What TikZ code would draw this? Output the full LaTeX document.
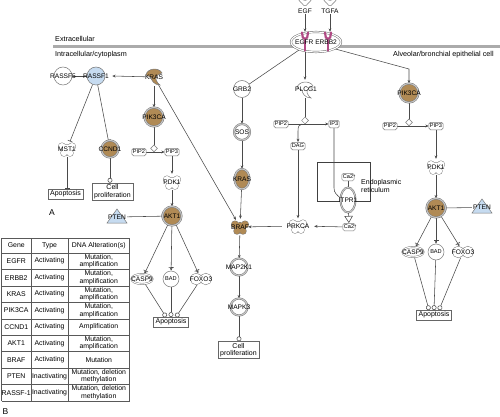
\documentclass[tikz,border=0pt]{standalone}
\usepackage{fontspec}
\setmainfont{Liberation Sans}
\usetikzlibrary{arrows.meta,shapes.geometric,calc}
\pgfdeclarelayer{bg}
\pgfsetlayers{bg,main}
\definecolor{brn}{HTML}{B08A55}
\definecolor{lblue}{HTML}{C6DBF0}
\definecolor{mag}{HTML}{B04A84}
\definecolor{ln}{HTML}{4A4A4A}
\definecolor{ol}{HTML}{787878}
\newcommand\zw[1]{\makebox[0pt]{#1}}
\newcommand\gfont{\fontsize{6.6}{7.2}\selectfont}
\newcommand\sfont{\fontsize{5.6}{6.2}\selectfont}
\newcommand\tfont{\fontsize{6.9}{7.4}\selectfont}
\newcommand\mfont{\fontsize{7.2}{8}\selectfont}
\newcommand\catwo{Ca2\rlap{\raisebox{1pt}{\fontsize{4}{4}\selectfont +}}}
\tikzset{
  lab/.style={font=\gfont, inner sep=0},
  txt/.style={font=\tfont, inner sep=0},
  hit/.style={circle, minimum size=#1, inner sep=0, font=\gfont},
  hitr/.style 2 args={rectangle, minimum width=#1, minimum height=#2, inner sep=0, font=\gfont},
  nplain/.style={circle, draw=ol, fill=white, line width=0.5, minimum size=#1, inner sep=0, font=\gfont},
  nring/.style={circle, draw=black!55, line width=0.45, double=black!22, double distance=1.1, fill=white, minimum size=#1, inner sep=0, font=\gfont},
  nbr/.style={nring=#1, fill=brn},
  casp/.style={ellipse, draw=ol, double=white, double distance=1, line width=0.45, fill=white, minimum width=21, minimum height=10, inner sep=0, font=\gfont},
  sm/.style={draw=ol, rounded corners=1.5, line width=0.5, fill=white, inner sep=1, minimum height=7.5, font=\sfont},
  dia/.style={diamond, draw=ol, fill=white, line width=0.5, minimum size=7, inner sep=0},
  outbox/.style={draw=black!60, line width=0.5, fill=white, inner xsep=2, inner ysep=1.5, align=center, font=\fontsize{7}{7.6}\selectfont},
  cn/.style={draw=ln, line width=0.55},
  arr/.style={cn, -{Stealth[length=3.3pt,width=2.8pt]}},
  tee/.style={cn, -{Bar[width=5pt]}},
  circ/.style={cn, -{Circle[open, length=4.8pt, width=4.8pt, fill=white]}},
  barr/.style={cn, -{Bar[width=5pt] Stealth[length=3pt,width=2.6pt]}},
  tbl/.style={draw=black!65, line width=0.5},
  pics/kin/.style={code={
    \foreach \a/\b/\r in {-5/-2.5/3.5, 5/-2.5/3.5, -3/4/3.2, 3/4/3.2, 0/0/4.6}
      {\draw[ol, line width=0.9] (\a,\b) circle (\r);}
    \foreach \a/\b/\r in {-5/-2.5/3.5, 5/-2.5/3.5, -3/4/3.2, 3/4/3.2, 0/0/4.6}
      {\fill[#1] (\a,\b) circle (\r);}
  }},
  pics/hook/.style={code={
    \draw[ol, line width=0.5, fill=#1] (-8,-1) .. controls (-7,-8) and (5,-9) .. (8,-3) .. controls (5,-2) and (1,0) .. (2,4) .. controls (3,7) and (5,8) .. (6,9) .. controls (0,9) and (-3,4) .. (-3,1) .. controls (-5,0) and (-7,0) .. (-8,-1) -- cycle;
  }},
  pics/gf/.style={code={
    \draw[ol, line width=0.5, fill=white] (-7,-6) .. controls (-8,-2) and (-3,0) .. (-1.2,3) -- (1.2,3) .. controls (3,0) and (8,-2) .. (7,-6) .. controls (5.5,-7.5) and (3.5,-6) .. (3,-4) .. controls (2,-1.5) and (-2,-1.5) .. (-3,-4) .. controls (-3.5,-6) and (-5.5,-7.5) .. (-7,-6) -- cycle;
  }},
  pics/ry/.style={code={
    \draw[mag, line width=2.2, line cap=round, line join=round] (-3,-9.5) -- (-2.2,-4.5) -- (0,-3) -- (2.2,-4.5) -- (3,-9.5);
    \draw[mag, line width=2.6, line cap=round] (0,-3) -- (0,8.5);
  }},
  pics/trg/.style={code={
    \draw[ol, line width=1] (-4.8,0) circle (5.5) (4.8,0) circle (5.5);
    \fill[white] (-4.8,0) circle (5.5) (4.8,0) circle (5.5);
  }},
}
\newcommand\trow[4]{%
  \node[txt] (g#1) at (16.25,{261.2+16.44*#1}) {#2};
  \node[txt] (t#1) at (49.5,{261.2+16.44*#1}) {#3};
  \node[txt, align=center] (d#1) at (98.75,{261.2+16.44*#1}) {#4};}
\begin{document}
\begin{tikzpicture}[x=1pt,y=-1pt]
\useasboundingbox (0,0) rectangle (500,417);
\begin{pgfonlayer}{bg}
\fill[white] (0,0) rectangle (500,417);
\draw[black!33, line width=3.8] (53,46.5) -- (500,46.5);
\draw[black!75, line width=0.5] (317,162) rectangle (370,201);
\end{pgfonlayer}
\node[font=\mfont, inner sep=0, anchor=west] (extra) at (55,38.5) {Extracellular};
\node[font=\mfont, inner sep=0, anchor=west] (intra) at (55,55) {Intracellular/cytoplasm};
\node[font=\mfont, inner sep=0, anchor=west] (alv) at (393,55) {Alveolar/bronchial epithelial cell};
% receptor and ligands
\node[ellipse, draw=black!60, double=white, double distance=1.2, line width=0.45, fill=white, minimum width=50, minimum height=20, inner sep=0] (rec) at (316,42) {};
\pic at (305,42) {ry};
\pic at (328,42) {ry};
\node[lab] (rectxt) at (316,42.5) {EGFR ERBB2};
\pic at (305,2.5) {gf};
\node[lab] (egf) at (305,11.5) {EGF};
\pic at (330,2.5) {gf};
\node[lab] (tgfa) at (330,11.5) {TGFA};
% middle column
\node[nplain=17] (grb2) at (242,89) {\zw{GRB2}};
\node[nring=16] (sos) at (242,132) {\zw{SOS}};
\node[nbr=15, ellipse, minimum height=20] (krasm) at (242,179) {\zw{KRAS}};
\pic at (240,227) {kin=brn};
\node[hit=16] (braf) at (240,227) {\zw{BRAF}};
\pic at (298,226) {kin=white};
\node[hitr={32}{15}] (prkca) at (298,226) {PRKCA};
\node[nring=17] (map2k1) at (239,267) {\zw{MAP2K1}};
\node[nring=17] (mapk3) at (239,307) {\zw{MAPK3}};
\node[outbox] (cpm) at (238.5,350) {Cell\\proliferation};
\pic at (305,89) {hook=white};
\node[hitr={16}{18}] (plcg) at (306,89) {PLCG1};
\node[dia] (diam) at (305,120.5) {};
\node[sm] (pip2m) at (281,124) {PIP2};
\node[sm] (ip3m) at (334,124) {IP3};
\node[sm] (dag) at (298,146) {DAG};
\node[sm] (ca2t) at (348,177) {\catwo};
\node[ellipse, draw=black!55, line width=0.45, double=black!22, double distance=1, fill=white, minimum width=15, minimum height=25, inner sep=0, font=\gfont] (itpr) at (348,200) {\zw{ITPR1}};
\node[sm] (ca2l) at (349,227) {\catwo};
\node[inner sep=0, anchor=west, align=left, font=\fontsize{7}{8}\selectfont] (ert) at (361,186) {Endoplasmic\\reticulum};
% left column
\node[nplain=18] (rassf5) at (63,76) {\zw{RASSF5}};
\node[nplain=18, fill=lblue] (rassf1) at (96,76) {\zw{RASSF1}};
\pic at (154,76) {hook=brn};
\node[hit=18] (krasl) at (154,77) {\zw{KRAS}};
\node[nbr=19] (pik3cal) at (154,117) {\zw{PIK3CA}};
\pic at (67,149) {kin=white};
\node[hit=16] (mst1) at (67,149) {\zw{MST1}};
\node[nbr=17] (ccnd1) at (110,149) {\zw{CCND1}};
\node[outbox] (apo1) at (65.5,194) {Apoptosis};
\node[outbox] (cpl) at (112.5,191.5) {Cell\\proliferation};
\node[font=\fontsize{8.5}{9}\selectfont, inner sep=0] (la) at (52,213) {A};
\node[dia] (dial) at (154,148.3) {};
\node[sm] (pip2l) at (139,152) {PIP2};
\node[sm] (pip3l) at (172,152) {PIP3};
\pic at (172,182) {kin=white};
\node[hit=16] (pdk1l) at (172,182) {\zw{PDK1}};
\node[nbr=19] (akt1l) at (172,216) {\zw{AKT1}};
\filldraw[fill=lblue, draw=ol, line width=0.5] (107,223) -- (117,209) -- (127,223) -- cycle;
\node[hitr={20}{14}] (ptenl) at (117,217) {PTEN};
\node[casp] (casp9l) at (142,279) {\zw{CASP9}};
\node[nplain=16, font=\sfont] (badl) at (171,279) {\zw{BAD}};
\pic at (201,279) {trg};
\node[hitr={21}{11}] (foxo3l) at (201,279) {FOXO3};
\node[outbox] (apo2) at (171,322) {Apoptosis};
% right column
\node[nbr=19] (pik3car) at (409,93) {\zw{PIK3CA}};
\node[dia] (diar) at (409,122.3) {};
\node[sm] (pip2r) at (390,126) {PIP2};
\node[sm] (pip3r) at (436,126) {PIP3};
\pic at (436,167) {kin=white};
\node[hit=16] (pdk1r) at (436,167) {\zw{PDK1}};
\node[nbr=19] (akt1r) at (436,208) {\zw{AKT1}};
\filldraw[fill=lblue, draw=ol, line width=0.5] (472,213) -- (482,199) -- (492,213) -- cycle;
\node[hitr={20}{14}] (ptenr) at (482,207.5) {PTEN};
\node[casp] (casp9r) at (413,252) {\zw{CASP9}};
\node[nplain=16, font=\sfont] (badr) at (436,252) {\zw{BAD}};
\pic at (463,252) {trg};
\node[hitr={21}{11}] (foxo3r) at (463,252) {FOXO3};
\node[outbox] (apo3) at (434,315) {Apoptosis};
% connectors
\begin{pgfonlayer}{bg}
\draw[arr] (egf) -- (egf |- rec.north);
\draw[arr] (tgfa) -- (tgfa |- rec.north);
\draw[cn] (rec.205) -- (grb2);
\draw[arr] (diam |- rec.south) -- (diam |- plcg.north);
\coordinate (rk) at (409,69);
\draw[arr] (rec.-20) -- (rk) -- (pik3car);
\draw[arr] (grb2) -- (sos);
\draw[arr] (sos) -- (krasm);
\draw[arr] (krasm) -- (braf);
\draw[arr] (prkca) -- (braf);
\draw[arr] (ca2l) -- (prkca);
\draw[arr] (dag) -- (prkca);
\draw[arr] (braf) -- (map2k1);
\draw[arr] (map2k1) -- (mapk3);
\draw[circ] (mapk3) -- (mapk3 |- cpm.north);
\draw[cn] (diam |- plcg.south) -- (diam);
\draw[arr] (pip2m) -- (ip3m);
\coordinate (brm) at (302,124);
\draw[arr] (brm) .. controls (299,124.3) and (298,126.5) .. (298,131) -- (dag);
\coordinate (ipk) at (334,188);
\draw[cn] (ip3m) -- (ipk) .. controls (334,193) and (337,195) .. (itpr.165);
\draw[cn] (ca2t) -- (itpr);
\draw[cn, -{Triangle[open, length=7pt, width=8.5pt, fill=white]}] (itpr) -- (ca2l);
\draw[cn] (rassf5) -- (rassf1);
\draw[arr] (krasl) -- ([xshift=7pt]rassf1.east);
\draw[arr] (krasl) -- (pik3cal);
\draw[arr] (krasl) -- (braf);
\draw[tee] (rassf1) -- (mst1);
\draw[tee] (rassf1) -- (ccnd1);
\draw[tee] (mst1) -- (mst1 |- apo1.north);
\draw[circ] (ccnd1) -- (ccnd1 |- cpl.north);
\draw[cn] (pik3cal) -- (dial);
\draw[arr] (pip2l) -- (pip3l);
\draw[arr] (pip3l) -- (pdk1l);
\draw[arr] (pdk1l) -- (akt1l);
\draw[tee] (ptenl) -- (akt1l);
\draw[barr] (akt1l) -- (casp9l);
\draw[barr] (akt1l) -- (badl);
\draw[barr] (akt1l) -- (foxo3l);
\draw[circ] (casp9l) -- ([xshift=-5pt]apo2.north);
\draw[circ] (badl) -- (apo2.north);
\draw[circ] (foxo3l) -- ([xshift=5pt]apo2.north);
\draw[cn] (pik3car) -- (diar);
\draw[arr] (pip2r) -- (pip3r);
\draw[arr] (pip3r) -- (pdk1r);
\draw[arr] (pdk1r) -- (akt1r);
\draw[tee] (ptenr) -- (akt1r);
\draw[barr] (akt1r) -- (casp9r);
\draw[barr] (akt1r) -- (badr);
\draw[barr] (akt1r) -- (foxo3r);
\draw[circ] (casp9r) -- ([xshift=-5pt]apo3.north);
\draw[circ] (badr) -- (apo3.north);
\draw[circ] (foxo3r) -- ([xshift=5pt]apo3.north);
\end{pgfonlayer}
% table
\draw[tbl] (1.5,238) -- (129.5,238);
\foreach \i in {0,...,9} {\draw[tbl] (1.5,{253+16.44*\i}) -- (129.5,{253+16.44*\i});}
\foreach \x in {1.5,31,68,129.5} {\draw[tbl] (\x,238) -- (\x,401);}
\node[txt] (h1) at (16.25,245.5) {Gene};
\node[txt] (h2) at (49.5,245.5) {Type};
\node[txt] (h3) at (98.75,245.5) {DNA Alteration(s)};
\trow{0}{EGFR}{Activating}{Mutation,\\amplification}
\trow{1}{ERBB2}{Activating}{Mutation,\\amplification}
\trow{2}{KRAS}{Activating}{Mutation,\\amplification}
\trow{3}{PIK3CA}{Activating}{Mutation,\\amplification}
\trow{4}{CCND1}{Activating}{Amplification}
\trow{5}{AKT1}{Activating}{Mutation,\\amplification}
\trow{6}{BRAF}{Activating}{Mutation}
\trow{7}{PTEN}{Inactivating}{Mutation, deletion\\methylation}
\trow{8}{RASSF-1}{Inactivating}{Mutation, deletion\\methylation}
\node[font=\fontsize{8.5}{9}\selectfont, inner sep=0] (lb) at (5.5,411.5) {B};
\end{tikzpicture}
\end{document}
